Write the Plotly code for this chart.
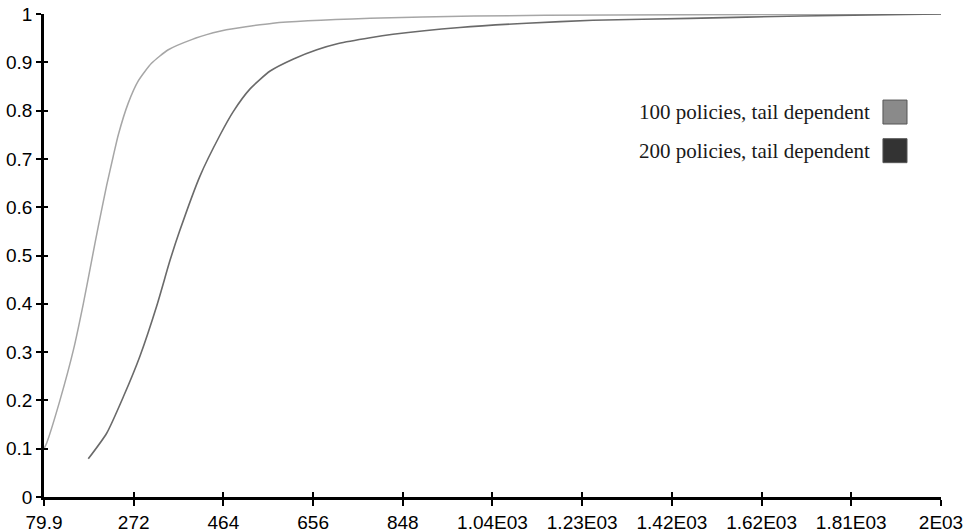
import plotly.graph_objects as go

# Data
x_100 = [79.9, 85.7, 114, 143, 164, 182, 196, 214, 228, 239, 260, 282, 310, 346, 396, 442, 463, 570, 778, 1000, 1300, 1600, 2000]
y_100 = [0.10, 0.112, 0.20, 0.305, 0.40, 0.49, 0.56, 0.645, 0.705, 0.75, 0.815, 0.862, 0.898, 0.926, 0.947, 0.961, 0.966, 0.981, 0.991, 0.996, 0.998, 0.999, 1.0]

x_200 = [174.7, 214, 250, 285, 321, 350, 370, 414, 457, 485, 521, 564, 614, 664, 710, 778, 827, 970, 1113, 1255, 1463, 1700, 2000]
y_200 = [0.079, 0.132, 0.208, 0.291, 0.395, 0.491, 0.55, 0.665, 0.75, 0.798, 0.845, 0.882, 0.907, 0.926, 0.939, 0.951, 0.958, 0.972, 0.981, 0.987, 0.991, 0.996, 1.0]

series_names = ["100 policies, tail dependent", "200 policies, tail dependent"]

x_tick_vals = [79.9, 271.9, 463.9, 655.9, 847.9, 1039.9, 1231.9, 1423.9, 1615.9, 1807.9, 2000]
x_tick_text = ["79.9", "272", "464", "656", "848", "1.04E03", "1.23E03", "1.42E03", "1.62E03", "1.81E03", "2E03"]
y_tick_vals = [0, 0.1, 0.2, 0.3, 0.4, 0.5, 0.6, 0.7, 0.8, 0.9, 1]
y_tick_text = ["0", "0.1", "0.2", "0.3", "0.4", "0.5", "0.6", "0.7", "0.8", "0.9", "1"]

fig = go.Figure()
fig.add_trace(go.Scatter(x=x_100, y=y_100, mode="lines", name=series_names[0],
                         line=dict(color="#a6a6a6", width=1.5, shape="spline", smoothing=0.6),
                         showlegend=False))
fig.add_trace(go.Scatter(x=x_200, y=y_200, mode="lines", name=series_names[1],
                         line=dict(color="#6a6a6a", width=1.6, shape="spline", smoothing=0.6),
                         showlegend=False))
# invisible trace for overlay axes (inner half of crossing ticks)
fig.add_trace(go.Scatter(x=[x_tick_vals[0]], y=[y_tick_vals[0]], xaxis="x2", yaxis="y2",
                         mode="markers", marker=dict(opacity=0), showlegend=False, hoverinfo="skip"))

tickfont = dict(family="Liberation Sans, Arial, sans-serif", size=19, color="black")
fig.update_layout(
    width=973, height=532,
    margin=dict(l=44, r=32, t=14, b=35),
    paper_bgcolor="white", plot_bgcolor="white",
    xaxis=dict(range=[79.9, 2000], tickvals=x_tick_vals, ticktext=x_tick_text, automargin=False,
               showgrid=False, zeroline=False, showline=True, linecolor="black", linewidth=2.5,
               ticks="outside", ticklen=6, tickwidth=2, tickcolor="black",
               tickfont=tickfont),
    yaxis=dict(range=[0, 1], tickvals=y_tick_vals, ticktext=y_tick_text, automargin=False,
               showgrid=False, zeroline=False, showline=True, linecolor="black", linewidth=2.5,
               ticks="outside", ticklen=5, tickwidth=2, tickcolor="black",
               tickfont=tickfont),
    xaxis2=dict(overlaying="x", matches="x", anchor="y2", range=[79.9, 2000], tickvals=x_tick_vals,
                showticklabels=False, showgrid=False, zeroline=False, showline=False, automargin=False,
                ticks="inside", ticklen=5, tickwidth=2, tickcolor="black"),
    yaxis2=dict(overlaying="y", matches="y", anchor="x2", range=[0, 1], tickvals=y_tick_vals,
                showticklabels=False, showgrid=False, zeroline=False, showline=False, automargin=False,
                ticks="inside", ticklen=4, tickwidth=2, tickcolor="black"),
)

# Manual legend (text left of the swatch, as in the reference)
legend_font = dict(family="Liberation Serif, Times New Roman, serif", size=21, color="#1a1a1a")
legend_items = [(series_names[0], "#8a8a8a", 0.797), (series_names[1], "#333333", 0.717)]
for name, col, yy in legend_items:
    fig.add_annotation(xref="paper", yref="paper", x=0.923, y=yy, text=name, showarrow=False,
                       xanchor="right", yanchor="middle", font=legend_font)
    fig.add_shape(type="rect", xref="paper", yref="paper",
                  x0=0.9353, x1=0.9621, y0=yy - 0.0248, y1=yy + 0.0248,
                  fillcolor=col, line=dict(color="#555", width=1))

fig.write_html("out.html", config={"displayModeBar": False},
               post_script="document.body.style.margin='0';document.body.style.overflow='hidden';")
